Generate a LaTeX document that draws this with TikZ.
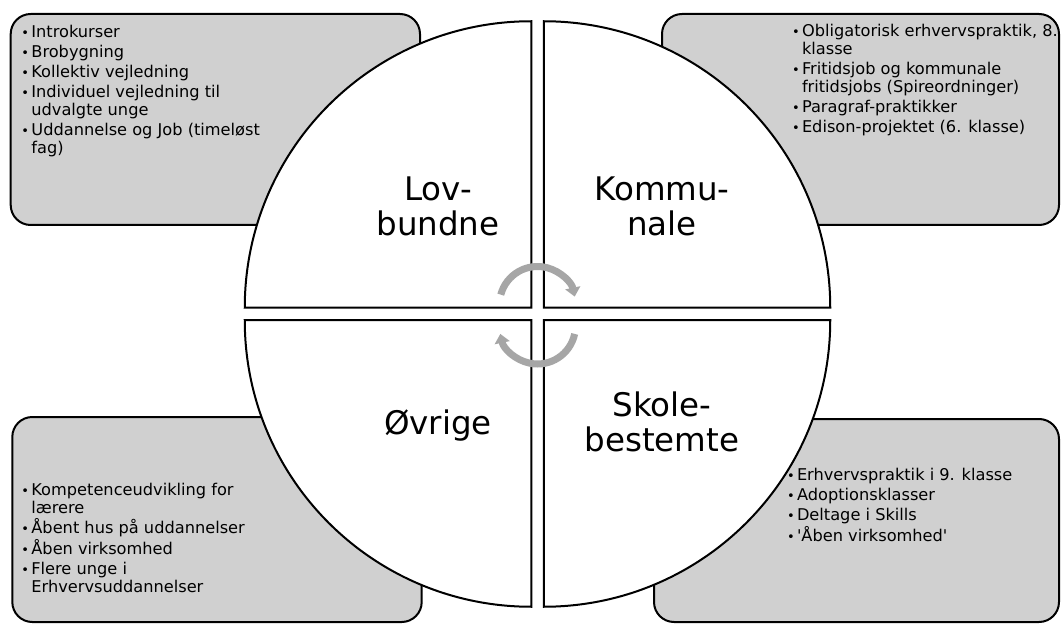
\documentclass[tikz,border=0pt]{standalone}
\usepackage{fontspec}
\setmainfont[Ligatures=TeXOff]{DejaVu Sans}
\usetikzlibrary{arrows.meta}
\definecolor{boxgray}{RGB}{208,208,208}
\definecolor{arrgray}{RGB}{166,166,166}
\newcommand{\bul}{\makebox[10pt][l]{\fontsize{13}{13}\selectfont •}}
\newcommand{\ind}{\hspace*{10pt}}
\newcommand{\ilist}[1]{\parbox[t]{400pt}{\raggedright\fontsize{16.2}{18}\selectfont #1}}
\newcommand{\biglabel}[1]{\parbox[t]{250pt}{\centering\fontsize{32.5}{35}\selectfont #1}}
\begin{document}
\begin{tikzpicture}[x=1pt,y=1pt,
  gbox/.style={draw=black, line width=2pt, fill=boxgray, rounded corners=20pt},
  quad/.style={draw=black, line width=2pt, fill=white},
  txt/.style={inner sep=0pt, text=black},
  cyc/.style={draw=arrgray, line width=7pt, -{Triangle[width=15pt,length=9pt]}}]
\useasboundingbox (0,0) rectangle (1061,625);
% grey boxes
\draw[gbox] (10.7,400) rectangle (420,611);
\draw[gbox] (662,400) rectangle (1059,611);
\draw[gbox] (12.3,3) rectangle (421.7,208);
\draw[gbox] (654,3) rectangle (1059,206);
% quadrants
\def\R{286.5}
\draw[quad] (531.25,317.25) -- ++(-\R,0) arc[start angle=180, end angle=90, radius=\R] -- cycle;
\draw[quad] (543.75,317.25) -- ++(\R,0) arc[start angle=0, end angle=90, radius=\R] -- cycle;
\draw[quad] (531.25,304.75) -- ++(-\R,0) arc[start angle=180, end angle=270, radius=\R] -- cycle;
\draw[quad] (543.75,304.75) -- ++(\R,0) arc[start angle=0, end angle=-90, radius=\R] -- cycle;
% cycle arrows
\coordinate (cu) at (537.5,320.5);
\coordinate (cl) at (537.5,299);
\draw[cyc] ([shift={(165:38)}]cu) arc[start angle=165, end angle=12, radius=38];
\draw[cyc] ([shift={(-12:38)}]cl) arc[start angle=-12, end angle=-168, radius=38];
% labels
\node[txt, anchor=base] (lov) at (438,424) {\biglabel{Lov-\\bundne}};
\node[txt, anchor=base] (kom) at (662,424) {\biglabel{Kommu-\\nale}};
\node[txt, anchor=base] (ovr) at (438,191) {\biglabel{Øvrige}};
\node[txt, anchor=base] (sko) at (662,208.5) {\biglabel{Skole-\\bestemte}};
% lists
\node[txt, anchor=base west] (tllist) at (21.2,587) {\ilist{%
\bul Introkurser\\[2pt]
\bul Brobygning\\[2pt]
\bul Kollektiv vejledning\\[2pt]
\bul Individuel vejledning til\\
\ind udvalgte unge\\[2pt]
\bul Uddannelse og Job (timeløst\\
\ind fag)}};
\node[txt, anchor=base west] (trlist) at (791.8,588) {\ilist{%
\bul Obligatorisk erhvervspraktik, 8.\\
\ind klasse\\[2pt]
\bul Fritidsjob og kommunale\\
\ind fritidsjobs (Spireordninger)\\[2pt]
\bul Paragraf-praktikker\\[2pt]
\bul Edison-projektet (6. klasse)}};
\node[txt, anchor=base west] (bllist) at (21.2,130) {\ilist{%
\bul Kompetenceudvikling for\\
\ind lærere\\[2pt]
\bul Åbent hus på uddannelser\\[2pt]
\bul Åben virksomhed\\[2pt]
\bul Flere unge i\\
\ind Erhvervsuddannelser}};
\node[txt, anchor=base west] (brlist) at (786.8,145) {\ilist{%
\bul Erhvervspraktik i 9. klasse\\[2pt]
\bul Adoptionsklasser\\[2pt]
\bul Deltage i Skills\\[2pt]
\bul 'Åben virksomhed'}};
\end{tikzpicture}
\end{document}
